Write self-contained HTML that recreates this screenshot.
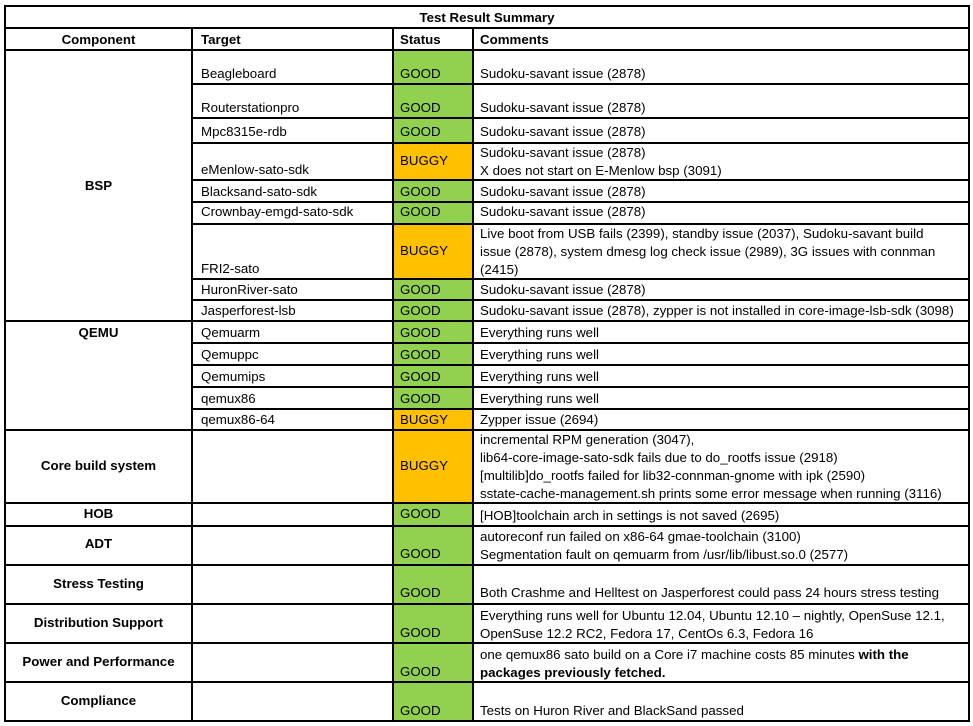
<!DOCTYPE html>
<html><head><meta charset="utf-8"><style>
body{margin:0;width:973px;height:726px;background:#fff;position:relative;overflow:hidden;font-family:"Liberation Sans",Arial,sans-serif;font-size:13.3px;color:#000}
.h{position:absolute;height:2px;background:#000}
.v{position:absolute;width:2px;background:#000}
.g{position:absolute;left:393px;width:79px;background:#92d050}
.o{position:absolute;left:393px;width:79px;background:#ffc000}
.t{position:absolute;line-height:16px;white-space:nowrap}
.c{position:absolute;left:5px;width:187px;text-align:center;font-weight:bold;line-height:16px}
.b{font-weight:bold}
</style></head><body>
<div class="g" style="top:50px;height:271px"></div>
<div class="o" style="top:143px;height:37px"></div>
<div class="o" style="top:224px;height:55px"></div>
<div class="g" style="top:321px;height:110px"></div>
<div class="o" style="top:409px;height:21px"></div>
<div class="o" style="top:430px;height:73px"></div>
<div class="g" style="top:503px;height:218px"></div>

<div class="h" style="left:4px;width:966px;top:5px"></div>
<div class="h" style="left:4px;width:966px;top:27px"></div>
<div class="h" style="left:4px;width:966px;top:49px"></div>
<div class="h" style="left:4px;width:966px;top:320px"></div>
<div class="h" style="left:4px;width:966px;top:429px"></div>
<div class="h" style="left:4px;width:966px;top:502px"></div>
<div class="h" style="left:4px;width:966px;top:525px"></div>
<div class="h" style="left:4px;width:966px;top:564px"></div>
<div class="h" style="left:4px;width:966px;top:603px"></div>
<div class="h" style="left:4px;width:966px;top:642px"></div>
<div class="h" style="left:4px;width:966px;top:681px"></div>
<div class="h" style="left:4px;width:966px;top:720px"></div>
<div class="h" style="left:192px;width:778px;top:83px"></div>
<div class="h" style="left:192px;width:778px;top:117px"></div>
<div class="h" style="left:192px;width:778px;top:142px"></div>
<div class="h" style="left:192px;width:778px;top:179px"></div>
<div class="h" style="left:192px;width:778px;top:201px"></div>
<div class="h" style="left:192px;width:778px;top:223px"></div>
<div class="h" style="left:192px;width:778px;top:278px"></div>
<div class="h" style="left:192px;width:778px;top:299px"></div>
<div class="h" style="left:192px;width:778px;top:342px"></div>
<div class="h" style="left:192px;width:778px;top:364px"></div>
<div class="h" style="left:192px;width:778px;top:386px"></div>
<div class="h" style="left:192px;width:778px;top:408px"></div>
<div class="v" style="left:4px;top:5px;height:717px"></div>
<div class="v" style="left:968px;top:5px;height:717px"></div>
<div class="v" style="left:191px;top:27px;height:695px"></div>
<div class="v" style="left:392px;top:27px;height:695px"></div>
<div class="v" style="left:472px;top:27px;height:695px"></div>

<div class="t b" style="left:4px;width:966px;text-align:center;top:10px">Test Result Summary</div>
<div class="c" style="top:32px">Component</div>
<div class="t b" style="left:201px;top:32px">Target</div>
<div class="t b" style="left:400px;top:32px">Status</div>
<div class="t b" style="left:480px;top:32px">Comments</div>

<div class="c" style="top:178px">BSP</div>
<div class="c" style="top:325px">QEMU</div>
<div class="c" style="top:458px">Core build system</div>
<div class="c" style="top:506px">HOB</div>
<div class="c" style="top:536px">ADT</div>
<div class="c" style="top:576px">Stress Testing</div>
<div class="c" style="top:615px">Distribution Support</div>
<div class="c" style="top:654px">Power and Performance</div>
<div class="c" style="top:693px">Compliance</div>

<div class="t" style="left:201px;top:66px">Beagleboard</div>
<div class="t" style="left:201px;top:100px">Routerstationpro</div>
<div class="t" style="left:201px;top:124px">Mpc8315e-rdb</div>
<div class="t" style="left:201px;top:162px">eMenlow-sato-sdk</div>
<div class="t" style="left:201px;top:184px">Blacksand-sato-sdk</div>
<div class="t" style="left:201px;top:204px">Crownbay-emgd-sato-sdk</div>
<div class="t" style="left:201px;top:261px">FRI2-sato</div>
<div class="t" style="left:201px;top:282px">HuronRiver-sato</div>
<div class="t" style="left:201px;top:303px">Jasperforest-lsb</div>
<div class="t" style="left:201px;top:325px">Qemuarm</div>
<div class="t" style="left:201px;top:347px">Qemuppc</div>
<div class="t" style="left:201px;top:369px">Qemumips</div>
<div class="t" style="left:201px;top:391px">qemux86</div>
<div class="t" style="left:201px;top:412px">qemux86-64</div>

<div class="t" style="left:400px;top:66px">GOOD</div>
<div class="t" style="left:400px;top:100px">GOOD</div>
<div class="t" style="left:400px;top:124px">GOOD</div>
<div class="t" style="left:400px;top:153px">BUGGY</div>
<div class="t" style="left:400px;top:184px">GOOD</div>
<div class="t" style="left:400px;top:204px">GOOD</div>
<div class="t" style="left:400px;top:243px">BUGGY</div>
<div class="t" style="left:400px;top:282px">GOOD</div>
<div class="t" style="left:400px;top:303px">GOOD</div>
<div class="t" style="left:400px;top:325px">GOOD</div>
<div class="t" style="left:400px;top:347px">GOOD</div>
<div class="t" style="left:400px;top:369px">GOOD</div>
<div class="t" style="left:400px;top:391px">GOOD</div>
<div class="t" style="left:400px;top:412px">BUGGY</div>
<div class="t" style="left:400px;top:458px">BUGGY</div>
<div class="t" style="left:400px;top:506px">GOOD</div>
<div class="t" style="left:400px;top:546px">GOOD</div>
<div class="t" style="left:400px;top:585px">GOOD</div>
<div class="t" style="left:400px;top:625px">GOOD</div>
<div class="t" style="left:400px;top:664px">GOOD</div>
<div class="t" style="left:400px;top:703px">GOOD</div>

<div class="t" style="left:480px;top:66px">Sudoku-savant issue (2878)</div>
<div class="t" style="left:480px;top:100px">Sudoku-savant issue (2878)</div>
<div class="t" style="left:480px;top:124px">Sudoku-savant issue (2878)</div>
<div class="t" style="left:480px;top:144px;line-height:18px">Sudoku-savant issue (2878)<br>X does not start on E-Menlow bsp (3091)</div>
<div class="t" style="left:480px;top:184px">Sudoku-savant issue (2878)</div>
<div class="t" style="left:480px;top:204px">Sudoku-savant issue (2878)</div>
<div class="t" style="left:480px;top:225px;line-height:18px">Live boot from USB fails (2399), standby issue (2037), Sudoku-savant build<br>issue (2878), system dmesg log check issue (2989), 3G issues with connman<br>(2415)</div>
<div class="t" style="left:480px;top:282px">Sudoku-savant issue (2878)</div>
<div class="t" style="left:480px;top:303px">Sudoku-savant issue (2878), zypper is not installed in core-image-lsb-sdk (3098)</div>
<div class="t" style="left:480px;top:325px">Everything runs well</div>
<div class="t" style="left:480px;top:347px">Everything runs well</div>
<div class="t" style="left:480px;top:369px">Everything runs well</div>
<div class="t" style="left:480px;top:391px">Everything runs well</div>
<div class="t" style="left:480px;top:412px">Zypper issue (2694)</div>
<div class="t" style="left:480px;top:431px;line-height:18px">incremental RPM generation (3047),<br>lib64-core-image-sato-sdk fails due to do_rootfs issue (2918)<br>[multilib]do_rootfs failed for lib32-connman-gnome with ipk (2590)<br>sstate-cache-management.sh prints some error message when running (3116)</div>
<div class="t" style="left:480px;top:508px">[HOB]toolchain arch in settings is not saved (2695)</div>
<div class="t" style="left:480px;top:528px;line-height:18px">autoreconf run failed on x86-64 gmae-toolchain (3100)<br>Segmentation fault on qemuarm from /usr/lib/libust.so.0 (2577)</div>
<div class="t" style="left:480px;top:585px">Both Crashme and Helltest on Jasperforest could pass 24 hours stress testing</div>
<div class="t" style="left:480px;top:607px;line-height:18px">Everything runs well for Ubuntu 12.04, Ubuntu 12.10 – nightly, OpenSuse 12.1,<br>OpenSuse 12.2 RC2, Fedora 17, CentOs 6.3, Fedora 16</div>
<div class="t" style="left:480px;top:646px;line-height:18px">one qemux86 sato build on a Core i7 machine costs 85 minutes <b>with the</b><br><b>packages previously fetched.</b></div>
<div class="t" style="left:480px;top:703px">Tests on Huron River and BlackSand passed</div>
</body></html>
